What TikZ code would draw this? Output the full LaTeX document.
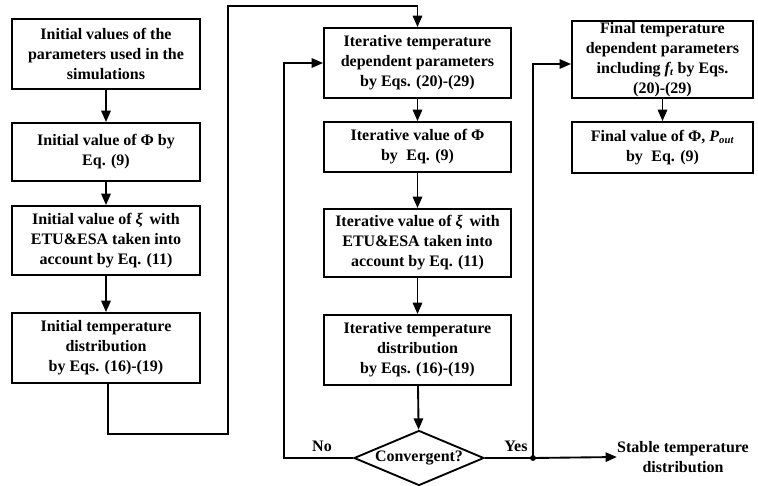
\documentclass[tikz,border=0pt]{standalone}
\usepackage{fontspec}
\setmainfont{Liberation Serif}
\usetikzlibrary{shapes.geometric,arrows.meta}
\begin{document}
\begin{tikzpicture}[x=0.75pt,y=-0.75pt,
  font=\bfseries\fontsize{12}{15}\selectfont,
  box/.style={draw,line width=1.4pt,align=center,inner sep=0pt},
  arr/.style={line width=1.4pt,-{Triangle[length=8.5pt,width=7pt]}},
  ln/.style={line width=1.4pt}]
\useasboundingbox (0,0) rectangle (758,486);
% left column
\node[box,minimum width=188*0.75pt,minimum height=70*0.75pt] (b1) at (106,54) {Initial values of the\\parameters used in the\\simulations};
\node[box,minimum width=188*0.75pt,minimum height=58*0.75pt] (b2) at (106,152) {Initial value of Φ by\\Eq. (9)};
\node[box,minimum width=188*0.75pt,minimum height=69*0.75pt] (b3) at (106,240.5) {Initial value of \textit{ξ} \,with\\ETU\&ESA taken into\\account by Eq. (11)};
\node[box,minimum width=188*0.75pt,minimum height=70*0.75pt] (b4) at (106,348) {Initial temperature\\distribution\\by Eqs. (16)-(19)};
% middle column
\node[box,minimum width=187*0.75pt,minimum height=70*0.75pt] (m1) at (417.5,63) {Iterative temperature\\dependent parameters\\by Eqs. (20)-(29)};
\node[box,minimum width=187*0.75pt,minimum height=50*0.75pt] (m2) at (417.5,147) {Iterative value of Φ\\by\; Eq. (9)};
\node[box,minimum width=187*0.75pt,minimum height=68*0.75pt] (m3) at (417.5,243) {Iterative value of \textit{ξ} \,with\\ETU\&ESA taken into\\account by Eq. (11)};
\node[box,minimum width=187*0.75pt,minimum height=70*0.75pt] (m4) at (417.5,350) {Iterative temperature\\distribution\\by Eqs. (16)-(19)};
\node[draw,line width=1.4pt,diamond,aspect=2.4,inner sep=0pt,minimum width=130*0.75pt,minimum height=55*0.75pt] (dec) at (419,458) {Convergent?};
% right column
\node[box,minimum width=181*0.75pt,minimum height=77*0.75pt] (r1) at (662.5,59.5) {Final temperature\\dependent parameters\\including \textit{f\textsubscript{t}} by Eqs.\\(20)-(29)};
\node[box,minimum width=181*0.75pt,minimum height=51*0.75pt] (r2) at (662.5,147.5) {Final value of Φ, \textit{P\textsubscript{out}}\\by\; Eq. (9)};
\node[align=center,inner sep=0pt] (stable) at (683,457) {Stable temperature\\distribution};
\node (no) at (322,446) {No};
\node (yes) at (516,446) {Yes};
% arrows left
\draw[arr] (b1) -- (b2);
\draw[arr] (b2) -- (b3);
\draw[arr] (b3) -- (b4);
% transfer
\coordinate (c1) at (108,434);
\coordinate (c2) at (228,434);
\coordinate (c3) at (228,6);
\coordinate (c4) at (m1.north|-c3);
\draw[arr] ([xshift=1.5pt]b4.south) -- ([xshift=1.5pt]b4.south|-c1) -- (c2) -- (c3) -- (c4) -- (m1.north);
% middle arrows
\draw[arr] (m1) -- (m2);
\draw[arr] (m2) -- (m3);
\draw[arr] (m3) -- (m4);
\draw[arr] (m4) -- (dec);
% no loop
\coordinate (n1) at (284,458);
\coordinate (n2) at (284,63);
\draw[arr] (dec.west) -- (n1) -- (n2) -- (m1.west);
% yes
\coordinate (y1) at (533,458);
\coordinate (y2) at (533,64);
\draw[ln] (dec.east) -- (y1);
\draw[arr] (y1) -- (stable.west);
\draw[arr] (y1) -- (y2) -- (r1.west|-y2);
\fill (y1) circle (2.2pt);
\draw[arr] (r1) -- (r2);
\end{tikzpicture}
\end{document}
